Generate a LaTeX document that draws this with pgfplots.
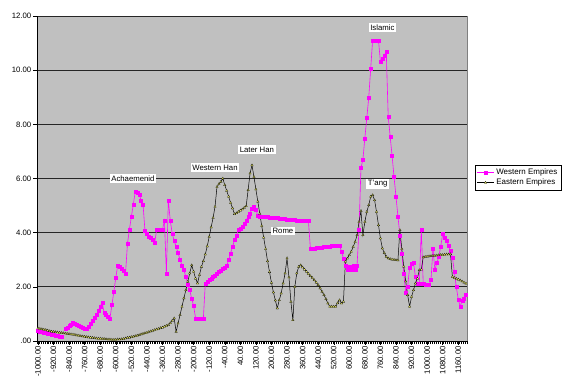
\documentclass[border=0pt]{standalone}
\usepackage{fontspec}
\setmainfont{Liberation Sans}
\usepackage{pgfplots}
\pgfplotsset{compat=1.18}
\usepackage{pgfplotstable}
\definecolor{plotgray}{HTML}{C0C0C0}
\definecolor{framegray}{HTML}{808080}
\definecolor{pinkw}{HTML}{FF00FF}
\definecolor{yel}{HTML}{FFFF66}
\pgfplotstableread{
year val
-1000 0.37
-990 0.35
-980 0.34
-970 0.32
-960 0.30
-950 0.29
-940 0.27
-930 0.25
-920 0.23
-910 0.21
-900 0.19
-890 0.17
-880 0.16
-870 nan
-860 0.44
-850 0.50
-840 0.56
-830 0.62
-820 0.68
-810 0.65
-800 0.61
-790 0.58
-780 0.54
-770 0.50
-760 0.47
-750 0.44
-740 0.55
-730 0.65
-720 0.75
-710 0.85
-700 0.98
-690 1.12
-680 1.28
-670 1.43
-660 1.04
-650 0.98
-640 0.91
-630 0.84
-620 1.33
-610 1.82
-600 2.34
-590 2.80
-580 2.74
-570 2.66
-560 2.59
-550 2.50
-540 3.60
-530 4.12
-520 4.59
-510 5.04
-500 5.51
-490 5.47
-480 5.41
-470 5.20
-460 5.04
-450 4.06
-440 3.97
-430 3.87
-420 3.81
-410 3.73
-400 3.63
-390 4.12
-380 4.12
-370 4.12
-360 4.12
-350 4.44
-340 2.50
-330 5.20
-320 4.44
-310 3.97
-300 3.70
-290 3.48
-280 3.26
-270 2.99
-260 2.80
-250 2.62
-240 2.37
-230 2.10
-220 1.88
-210 1.57
-200 1.29
-190 0.84
-180 0.82
-170 0.82
-160 0.82
-150 0.84
-140 2.13
-130 2.19
-120 2.25
-110 2.31
-100 2.37
-90 2.43
-80 2.49
-70 2.55
-60 2.61
-50 2.67
-40 2.72
-30 2.77
-20 2.99
-10 3.24
0 3.48
10 3.73
20 3.91
30 4.10
40 4.16
50 4.22
60 4.34
70 4.46
80 4.59
90 4.71
100 4.90
110 4.98
120 4.85
130 4.62
140 4.61
150 4.60
160 4.60
170 4.59
180 4.58
190 4.57
200 4.57
210 4.56
220 4.55
230 4.54
240 4.53
250 4.53
260 4.52
270 4.51
280 4.50
290 4.49
300 4.49
310 4.48
320 4.47
330 4.46
340 4.46
350 4.45
360 4.44
370 4.44
380 4.43
390 4.43
400 3.42
410 3.43
420 3.43
430 3.44
440 3.45
450 3.46
460 3.46
470 3.47
480 3.48
490 3.49
500 3.50
510 3.51
520 3.52
530 3.53
540 3.53
550 3.54
560 3.30
570 3.05
580 2.80
590 2.62
600 2.74
610 2.62
620 2.80
630 2.62
640 2.80
650 4.13
660 6.39
670 6.70
680 7.49
690 8.24
700 8.99
710 10.05
720 11.11
730 11.11
740 11.11
750 11.11
760 10.31
770 10.43
780 10.55
790 10.68
800 8.30
810 7.56
820 6.84
830 6.06
840 5.33
850 4.61
860 3.91
870 3.24
880 2.50
890 1.80
900 2.00
910 2.72
920 2.84
930 2.89
940 2.37
950 2.13
960 2.13
970 4.12
980 2.13
990 2.07
1000 2.07
1010 2.07
1020 2.25
1030 3.42
1040 2.62
1050 2.89
1060 3.10
1070 3.50
1080 3.95
1090 3.83
1100 3.70
1110 3.54
1120 3.33
1130 3.09
1140 2.55
1150 2.00
1160 1.54
1170 1.27
1180 1.51
1190 1.57
1200 1.73
}\western
\pgfplotstableread{
year val
-1000 0.47
-990 0.45
-980 0.44
-970 0.42
-960 0.41
-950 0.39
-940 0.37
-930 0.35
-920 0.34
-910 0.33
-900 0.32
-890 0.31
-880 0.30
-870 0.29
-860 0.28
-850 0.27
-840 0.26
-830 0.25
-820 0.24
-810 0.23
-800 0.21
-790 0.20
-780 0.18
-770 0.17
-760 0.16
-750 0.15
-740 0.14
-730 0.13
-720 0.12
-710 0.11
-700 0.10
-690 0.09
-680 0.09
-670 0.08
-660 0.08
-650 0.07
-640 0.06
-630 0.06
-620 0.05
-610 0.05
-600 0.05
-590 0.06
-580 0.06
-570 0.07
-560 0.08
-550 0.10
-540 0.12
-530 0.13
-520 0.15
-510 0.16
-500 0.18
-490 0.20
-480 0.22
-470 0.25
-460 0.27
-450 0.29
-440 0.31
-430 0.34
-420 0.36
-410 0.38
-400 0.41
-390 0.43
-380 0.45
-370 0.48
-360 0.50
-350 0.53
-340 0.56
-330 0.59
-320 0.66
-310 0.75
-300 0.84
-290 0.34
-280 0.65
-270 0.96
-260 1.27
-250 1.58
-240 1.88
-230 2.19
-220 2.50
-210 2.80
-200 2.56
-190 2.31
-180 2.13
-170 2.44
-160 2.74
-150 2.95
-140 3.20
-130 3.50
-120 3.85
-110 4.20
-100 4.55
-90 4.96
-80 5.69
-70 5.80
-60 5.88
-50 6.00
-40 5.76
-30 5.55
-20 5.33
-10 5.10
0 4.90
10 4.69
20 4.72
30 4.77
40 4.82
50 4.86
60 4.92
70 4.98
80 5.57
90 6.19
100 6.49
110 6.06
120 5.60
130 5.15
140 4.70
150 4.25
160 3.82
170 3.40
180 2.95
190 2.55
200 2.15
210 1.80
220 1.50
230 1.21
240 1.51
250 1.76
260 2.13
270 2.50
280 3.05
290 2.35
300 1.45
310 0.77
320 2.00
330 2.50
340 2.74
350 2.80
360 2.72
370 2.64
380 2.56
390 2.48
400 2.40
410 2.33
420 2.25
430 2.16
440 2.07
450 1.95
460 1.82
470 1.70
480 1.55
490 1.39
500 1.27
510 1.27
520 1.27
530 1.27
540 1.40
550 1.51
560 1.39
570 1.45
580 2.93
590 3.05
600 3.17
610 3.30
620 3.48
630 3.66
640 3.91
650 4.40
660 4.80
670 3.91
680 4.40
690 4.77
700 5.02
710 5.33
720 5.39
730 5.20
740 4.77
750 4.28
760 3.79
770 3.42
780 3.25
790 3.11
800 3.05
810 3.03
820 3.01
830 3.00
840 2.99
850 2.98
860 4.10
870 3.40
880 2.75
890 2.20
900 1.70
910 1.27
920 1.63
930 1.88
940 2.13
950 2.31
960 2.62
970 2.64
980 3.09
990 3.11
1000 3.12
1010 3.13
1020 3.14
1030 3.15
1040 3.15
1050 3.16
1060 3.17
1070 3.18
1080 3.18
1090 3.19
1100 3.20
1110 3.20
1120 3.21
1130 2.37
1140 2.33
1150 2.30
1160 2.27
1170 2.24
1180 2.20
1190 2.16
1200 2.12
}\eastern
\begin{document}
\begin{tikzpicture}
\path[use as bounding box] (0bp,0bp) rectangle (575bp,391bp);
\begin{axis}[
  at={(37bp,50bp)}, anchor=south west,
  scale only axis, width=430bp, height=325bp,
  xmin=-1005, xmax=1205, ymin=0, ymax=12,
  axis lines=left,
  axis line style={-, black, line width=0.6bp},
  axis background/.style={fill=plotgray, draw=framegray, line width=0.8bp},
  unbounded coords=jump,
  ytick={0,2,4,6,8,10,12},
  yticklabels={.00,2.00,4.00,6.00,8.00,10.00,12.00},
  ymajorgrids,
  grid style={black!85, line width=0.7bp},
  xtick={-1000,-920,-840,-760,-680,-600,-520,-440,-360,-280,-200,-120,-40,40,120,200,280,360,440,520,600,680,760,840,920,1000,1080,1160},
  xticklabels={-1000.00,-920.00,-840.00,-760.00,-680.00,-600.00,-520.00,-440.00,-360.00,-280.00,-200.00,-120.00,-40.00,40.00,120.00,200.00,280.00,360.00,440.00,520.00,600.00,680.00,760.00,840.00,920.00,1000.00,1080.00,1160.00},
  minor xtick={-1005,-995,...,1205},
  tick align=outside,
  major tick length=3.5bp, minor tick length=3bp,
  every tick/.style={black, line width=0.4bp},
  xticklabel style={rotate=90, anchor=east, font=\fontsize{7.8}{9}\selectfont, inner sep=1.5bp},
  yticklabel style={font=\fontsize{7.8}{9}\selectfont, inner sep=2bp},
  legend style={at={(1.0186,0.5415)}, anchor=north west, draw=black, fill=white,
    font=\fontsize{8}{9}\selectfont, inner sep=1.5bp, row sep=-1bp, line width=0.5bp},
  legend cell align=left,
]
\addplot[pinkw, line width=0.6bp, mark=square*, mark size=1.5bp, mark options={fill=pinkw, draw=pinkw, line width=0.2bp}] table[x=year, y=val] {\western};
\addlegendentry{Western Empires}
\addplot[black, line width=0.5bp, mark=triangle*, mark size=1.4bp, mark options={fill=yel, draw=black, line width=0.25bp}] table[x=year, y=val] {\eastern};
\addlegendentry{Eastern Empires}
\begin{scope}[every node/.style={fill=white, inner sep=1.6bp, font=\fontsize{7.8}{9}\selectfont}]
\node at (axis cs:-512,6.01) {Achaemenid};
\node at (axis cs:-90,6.40) {Western Han};
\node at (axis cs:125,7.07) {Later Han};
\node at (axis cs:259,4.06) {Rome};
\node at (axis cs:770,11.56) {Islamic};
\node at (axis cs:746,5.80) {T'ang};
\end{scope}
\end{axis}
\end{tikzpicture}
\end{document}
